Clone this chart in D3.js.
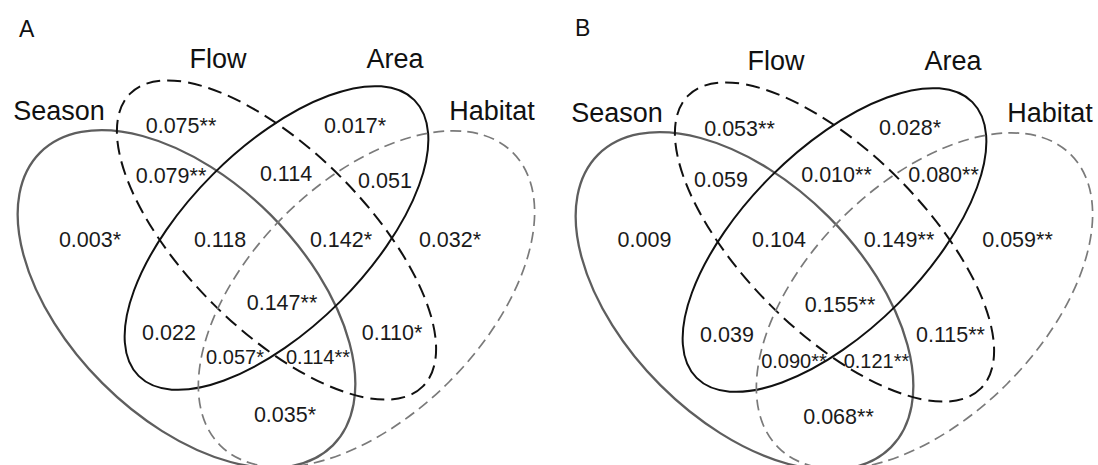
<!DOCTYPE html>
<html>

<head>
    <meta charset="UTF-8">
    <style>
        body { margin: 0; background: #fff; }
        svg { display: block; }
        text { font-family: "Liberation Sans", Arial, sans-serif; }
    </style>
</head>

<body>
    <svg></svg>
    <script src="https://d3js.org/d3.v7.min.js"></script>

    <script>

        let width = 1098, height = 465;

        // sets and the 15 regions (S = Season, F = Flow, A = Area, H = Habitat)
        const setNames = ["Season", "Flow", "Area", "Habitat"];
        const regionKeys = ["F", "A", "SF", "FA", "AH", "S", "SFA", "FAH", "H", "SFAH", "SA", "FH", "SAH", "SFH", "SH"];

        // panel A values
        const valuesA = [0.075, 0.017, 0.079, 0.114, 0.051, 0.003, 0.118, 0.142, 0.032, 0.147, 0.022, 0.110, 0.057, 0.114, 0.035];
        const starsA = ["**", "*", "**", "", "", "*", "", "*", "*", "**", "", "*", "*", "**", "*"];

        // panel B values
        const valuesB = [0.053, 0.028, 0.059, 0.010, 0.080, 0.009, 0.104, 0.149, 0.059, 0.155, 0.039, 0.115, 0.090, 0.121, 0.068];
        const starsB = ["**", "*", "", "**", "**", "", "", "**", "**", "**", "", "**", "**", "**", "**"];

        // ---- layout (panel-local pixels) ----
        const ellipses = {
            Season:  { cx: 186.5, cy: 299, rx: 207, ry: 119, rot: 45,  stroke: "#5e5e5e", w: 2.3, dash: null },
            Flow:    { cx: 276.5, cy: 240, rx: 207, ry: 90,  rot: 45,  stroke: "#111",    w: 2,   dash: "14,7" },
            Area:    { cx: 276.5, cy: 238, rx: 195, ry: 90,  rot: -45, stroke: "#111",    w: 2,   dash: null },
            Habitat: { cx: 366.5, cy: 299, rx: 207, ry: 117, rot: -45, stroke: "#7a7a7a", w: 1.7, dash: "11,6" }
        };
        const setLabelPos = { Season: [59, 120], Flow: [218, 68], Area: [395, 68], Habitat: [492, 120] };

        const regionPosA = {
            F: [181, 133], A: [355, 133], SF: [171, 183], FA: [286, 181], AH: [385, 188],
            S: [90, 247], SFA: [220, 247], FAH: [341, 247], H: [450, 247], SFAH: [282, 310],
            SA: [169, 340], FH: [392, 340], SAH: [235, 364], SFH: [318, 364], SH: [285, 422]
        };
        const regionPosB = {
            F: [181.5, 134], A: [352, 133], SF: [163, 185], FA: [278.5, 180], AH: [385.5, 180],
            S: [86.5, 245], SFA: [221, 245], FAH: [341, 245], H: [459.5, 245], SFAH: [282, 310],
            SA: [169, 340], FH: [392.5, 340], SAH: [236, 366], SFH: [318.5, 366], SH: [280.5, 422]
        };
        const smallRegions = ["SAH", "SFH"];

        const fmt = d3.format(".3f");

        let svg = d3.select("svg")
            .attr("width", width)
            .attr("height", height)
            .attr("viewBox", "0 0 " + width + " " + height);

        function drawPanel(letter, letterPos, offset, values, stars, regionPos) {
            let g = svg.append("g")
                .attr("transform", "translate(" + offset[0] + "," + offset[1] + ")");

            // ellipses
            g.append("g")
                .selectAll("ellipse")
                .data(setNames)
                .join("ellipse")
                .attr("cx", 0).attr("cy", 0)
                .attr("rx", d => ellipses[d].rx)
                .attr("ry", d => ellipses[d].ry)
                .attr("transform", d => "translate(" + ellipses[d].cx + "," + ellipses[d].cy + ") rotate(" + ellipses[d].rot + ")")
                .attr("fill", "none")
                .attr("stroke", d => ellipses[d].stroke)
                .attr("stroke-width", d => ellipses[d].w)
                .attr("stroke-dasharray", d => ellipses[d].dash);

            // set names
            g.append("g")
                .selectAll("text")
                .data(setNames)
                .join("text")
                .attr("x", d => setLabelPos[d][0])
                .attr("y", d => setLabelPos[d][1])
                .attr("text-anchor", "middle")
                .attr("font-size", 27)
                .attr("fill", "#111")
                .text(d => d);

            // region values
            g.append("g")
                .selectAll("text")
                .data(regionKeys)
                .join("text")
                .attr("x", d => regionPos[d][0])
                .attr("y", d => regionPos[d][1])
                .attr("text-anchor", "middle")
                .attr("font-size", d => smallRegions.includes(d) ? 20 : 21.5)
                .attr("fill", "#1a1a1a")
                .text((d, i) => fmt(values[i]) + stars[i]);

            // panel letter
            g.append("text")
                .attr("x", letterPos[0])
                .attr("y", letterPos[1])
                .attr("font-size", 23)
                .attr("fill", "#111")
                .text(letter);
        }

        drawPanel("A", [19, 37], [0, 0], valuesA, starsA, regionPosA);
        drawPanel("B", [17, 34], [558, 2], valuesB, starsB, regionPosB);

    </script>
</body>

</html>
